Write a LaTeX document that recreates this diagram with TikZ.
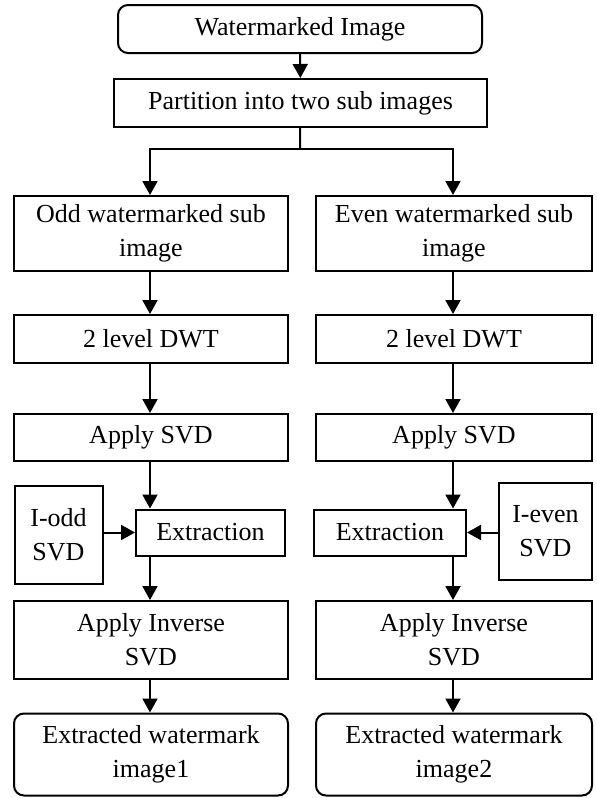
\documentclass[tikz,border=0pt]{standalone}
\usepackage{fontspec}
\setmainfont{Liberation Serif}
\usetikzlibrary{arrows.meta}
\begin{document}
\begin{tikzpicture}[x=1pt,y=-1pt,
  box/.style={draw,line width=2pt,minimum width=#1,align=center,inner sep=0pt,font=\fontsize{26}{34}\selectfont},
  rbox/.style={box=#1,rounded corners=10pt},
  arr/.style={line width=2pt,-{Triangle[width=15pt,length=14pt]}},
  ln/.style={line width=2pt}]
\useasboundingbox (0,0) rectangle (597,798);
\node[rbox=364pt,minimum height=48pt] (wm) at (300,29) {Watermarked Image};
\node[box=373pt,minimum height=48pt] (part) at (300.5,103) {Partition into two sub images};
\node[box=274pt,minimum height=75pt] (odd) at (151,233.5) {Odd watermarked sub\\image};
\node[box=276pt,minimum height=75pt] (even) at (454,233.5) {Even watermarked sub\\image};
\node[box=274pt,minimum height=48pt] (dwtL) at (151,339) {2 level DWT};
\node[box=276pt,minimum height=48pt] (dwtR) at (454,339) {2 level DWT};
\node[box=274pt,minimum height=47pt] (svdL) at (151,437.5) {Apply SVD};
\node[box=276pt,minimum height=47pt] (svdR) at (454,437.5) {Apply SVD};
\node[box=149pt,minimum height=46pt] (extL) at (210.5,532.5) {Extraction};
\node[box=152pt,minimum height=46pt] (extR) at (390,532.5) {Extraction};
\node[box=88pt,minimum height=98pt] (iodd) at (58.5,535) {I-odd\\SVD};
\node[box=93pt,minimum height=97pt] (ieven) at (545.5,531.5) {I-even\\SVD};
\node[box=274pt,minimum height=78pt] (invL) at (151,640) {Apply Inverse\\SVD};
\node[box=276pt,minimum height=78pt] (invR) at (454,640) {Apply Inverse\\SVD};
\node[rbox=274pt,minimum height=82pt] (outL) at (151,754.5) {Extracted watermark\\image1};
\node[rbox=276pt,minimum height=82pt] (outR) at (454,754.5) {Extracted watermark\\image2};
\coordinate (split) at (300,149);
\coordinate (cl) at (150,0);
\coordinate (cr) at (453,0);
\draw[arr] (wm) -- (part);
\draw[ln] (part) -- (split);
\draw[arr] (split) -| (cl |- odd.north);
\draw[arr] (split) -| (cr |- even.north);
\draw[arr] (cl |- odd.south) -- (cl |- dwtL.north);
\draw[arr] (cr |- even.south) -- (cr |- dwtR.north);
\draw[arr] (cl |- dwtL.south) -- (cl |- svdL.north);
\draw[arr] (cr |- dwtR.south) -- (cr |- svdR.north);
\draw[arr] (cl |- svdL.south) -- (cl |- extL.north);
\draw[arr] (cr |- svdR.south) -- (cr |- extR.north);
\draw[arr] (iodd.east |- extL.west) -- (extL.west);
\draw[arr] (ieven.west |- extR.east) -- (extR.east);
\draw[arr] (cl |- extL.south) -- (cl |- invL.north);
\draw[arr] (cr |- extR.south) -- (cr |- invR.north);
\draw[arr] (cl |- invL.south) -- (cl |- outL.north);
\draw[arr] (cr |- invR.south) -- (cr |- outR.north);
\end{tikzpicture}
\end{document}
